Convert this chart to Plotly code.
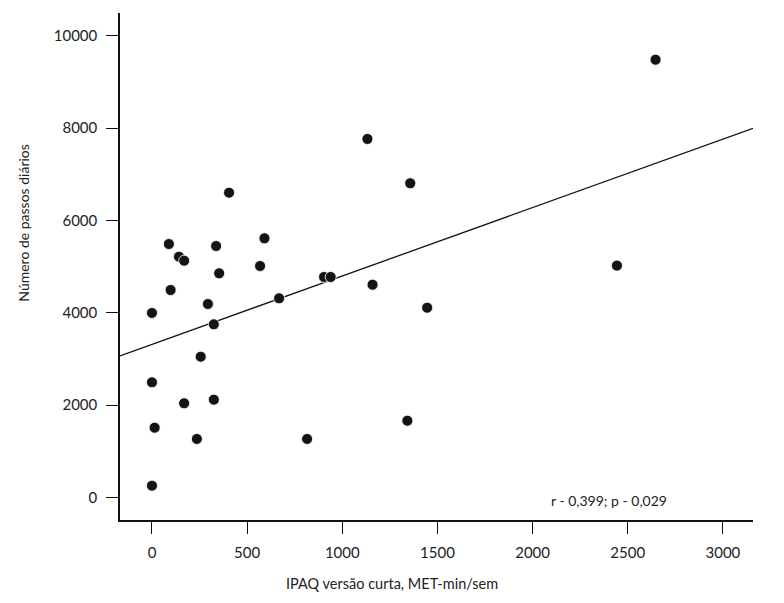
import plotly.graph_objects as go

# Data
ipaq_met = [0, 0, 14, 0, 89, 98, 142, 169, 169, 236, 256, 294, 325, 325, 337,
            353, 405, 568, 591, 668, 815, 904, 939, 1132, 1159, 1342, 1357,
            1446, 2443, 2646]
passos = [258, 2496, 1513, 3997, 5490, 4494, 5215, 5129, 2042, 1269, 3050,
          4191, 3752, 2120, 5447, 4856, 6601, 5014, 5614, 4315, 1269, 4776,
          4776, 7764, 4609, 1665, 6805, 4111, 5022, 9480]

# Regression line (intercept, slope) as drawn
reg_intercept = 3316
reg_slope = 1.4815

x_range = [-168, 3158]
y_range = [-485, 10491]
x_ticks = [0, 500, 1000, 1500, 2000, 2500, 3000]
x_tick_labels = ["0", "500", "1000", "1500", "2000", "2500", "3000"]
y_ticks = [0, 2000, 4000, 6000, 8000, 10000]
y_tick_labels = ["0", "2000", "4000", "6000", "8000", "10000"]

x_title = "IPAQ versão curta, MET-min/sem"
y_title = "Número de passos diários"
stat_text = "r - 0,399; p - 0,029"

font_family = "Lato, 'Open Sans', sans-serif"
text_color = "#222222"

line_x = x_range
line_y = [reg_intercept + reg_slope * v for v in line_x]

fig = go.Figure()
fig.add_trace(go.Scatter(x=line_x, y=line_y, mode="lines",
                         line=dict(color="#111111", width=1.3),
                         hoverinfo="skip", showlegend=False))
fig.add_trace(go.Scatter(x=ipaq_met, y=passos, mode="markers",
                         marker=dict(size=11, color="#141414",
                                     line=dict(color="white", width=0.8)),
                         showlegend=False))

fig.update_layout(
    width=776, height=595,
    margin=dict(l=112, r=31, t=5, b=83),
    paper_bgcolor="white", plot_bgcolor="white",
    font=dict(family=font_family, size=14, color=text_color),
    showlegend=False,
    xaxis=dict(range=x_range, tickvals=x_ticks, ticktext=x_tick_labels,
               ticks="outside", ticklen=12,
               tickwidth=1.3, tickcolor="#111111", showline=True,
               linecolor="#111111", linewidth=1.5, showgrid=False,
               zeroline=False, ticklabelstandoff=6,
               tickfont=dict(size=15, color=text_color)),
    yaxis=dict(range=y_range, tickvals=y_ticks, ticktext=y_tick_labels,
               ticks="outside", ticklen=12,
               tickwidth=1.3, tickcolor="#111111", showline=True,
               linecolor="#111111", linewidth=1.5, showgrid=False,
               zeroline=False, ticklabelstandoff=6,
               tickfont=dict(size=15, color=text_color)),
    annotations=[
        dict(text=x_title, xref="paper", yref="paper", x=0.43, y=-0.126,
             showarrow=False, xanchor="center", yanchor="middle",
             font=dict(size=14.5, color=text_color)),
        dict(text=y_title, xref="paper", yref="paper", x=-0.152, y=0.586,
             showarrow=False, textangle=-90, xanchor="center",
             yanchor="middle", font=dict(size=14, color=text_color)),
        dict(text=stat_text, xref="paper", yref="paper", x=0.773, y=0.039,
             showarrow=False, xanchor="center", yanchor="middle",
             font=dict(size=14, color=text_color)),
    ],
)

fig.write_html("out.html")
